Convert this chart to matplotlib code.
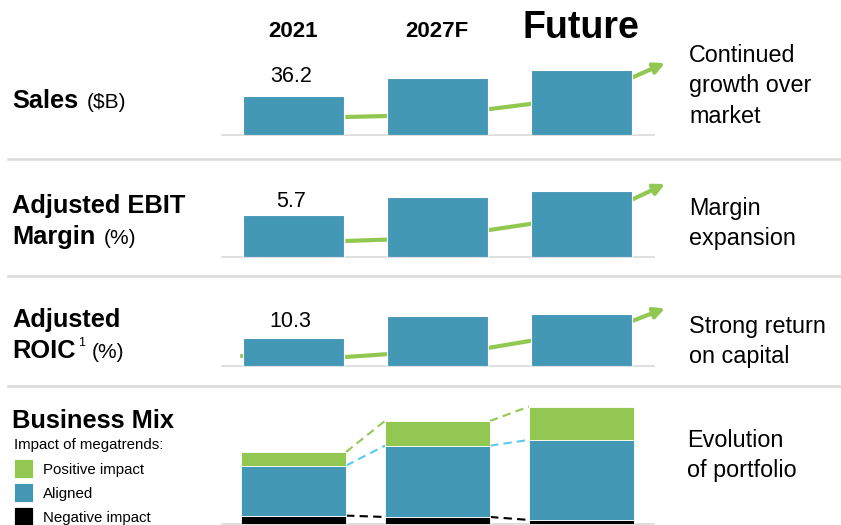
import matplotlib
matplotlib.use('Agg')
import matplotlib.pyplot as plt
from matplotlib.lines import Line2D

W, H = 841, 525
plt.rcParams['font.family'] = ['Liberation Sans', 'DejaVu Sans']

# DATA
years = ['2021', '2027F', 'Future']
sales = [36.2, 52.2, 59.6]
ebit_margin = [5.7, 8.3, 9.1]
roic = [10.3, 18.3, 19.2]
mix_negative = [4.0, 3.3, 1.8]
mix_aligned = [25.3, 36.1, 40.5]
mix_positive = [6.9, 12.5, 16.9]
mix_labels = ['Positive impact', 'Aligned', 'Negative impact']

# trend arrows drawn behind the bars (value units)
trend_x = [0.36, 0.64, 1.36, 1.64, 2.36, 2.58]
sales_trend = [16.5, 17.4, 23.8, 28.4, 53.2, 66.0]
ebit_trend = [2.17, 2.35, 3.68, 4.51, 7.96, 10.03]
roic_trend = [3.2, 4.2, 6.6, 9.1, 16.6, 21.1]

BLUE = '#4398b6'
GREEN = '#92c851'
LIGHTBLUE = '#5ac8f5'
GRAY = '#d9d9d9'


def fx(x):
    return x / W


def fy(y):
    return 1 - y / H


fig = plt.figure(figsize=(W / 100, H / 100), dpi=100)


def row_axes(baseline, height, ytop):
    ax = fig.add_axes([fx(221.5), fy(baseline), 432 / W, height / H])
    ax.set_xlim(-0.5, 2.5)
    ax.set_ylim(0, ytop)
    for s in ['top', 'left', 'right']:
        ax.spines[s].set_visible(False)
    ax.spines['bottom'].set_color(GRAY)
    ax.spines['bottom'].set_linewidth(1.2)
    ax.set_xticks([])
    ax.set_yticks([])
    ax.patch.set_alpha(0)
    return ax


def trend_row(ax, values, trend, label, label_dy, tx=None, ty=None):
    ax.bar(range(len(values)), values, width=0.70, color=BLUE,
           edgecolor='white', linewidth=0.8, zorder=3)
    xs = list(trend_x[:5])
    ys = list(trend[:5])
    if tx is not None:
        xs = [tx] + xs
        ys = [ty] + ys
    ax.plot(xs, ys, color=GREEN, lw=3, solid_capstyle='butt', zorder=1, clip_on=False)
    ax.annotate('', xy=(trend_x[5], trend[5]), xytext=(trend_x[4], trend[4]),
                arrowprops=dict(arrowstyle='-|>', color=GREEN, lw=3,
                                mutation_scale=16, shrinkA=0, shrinkB=0),
                annotation_clip=False, zorder=1)
    ax.annotate(label, xy=(0, values[0]), xytext=(-2, label_dy),
                textcoords='offset points', ha='center', va='baseline',
                fontsize=15.5)


# rows of bars
ax1 = row_axes(135, 85, 78)
trend_row(ax1, sales, sales_trend, f'{sales[0]}', 9.7)

ax2 = row_axes(256.7, 85, 11.73)
trend_row(ax2, ebit_margin, ebit_trend, f'{ebit_margin[0]}', 6.2)

ax3 = row_axes(365.7, 85, 31.27)
trend_row(ax3, roic, roic_trend, f'{roic[0]}', 7.5, tx=-0.37, ty=3.6)

# business mix stacked bars
ax4 = row_axes(523.5, 130, 65.8)
xpos = range(len(years))
b_neg = ax4.bar(xpos, mix_negative, width=0.73, color='black',
                edgecolor='white', linewidth=0.6, zorder=3)
bottom2 = [a for a in mix_negative]
b_al = ax4.bar(xpos, mix_aligned, width=0.73, bottom=bottom2, color=BLUE,
               edgecolor='white', linewidth=0.6, zorder=3)
bottom3 = [a + b for a, b in zip(mix_negative, mix_aligned)]
b_pos = ax4.bar(xpos, mix_positive, width=0.73, bottom=bottom3, color=GREEN,
                edgecolor='white', linewidth=0.6, zorder=3)
tops = [a + b for a, b in zip(bottom3, mix_positive)]
for levels, col in [(tops, GREEN), (bottom3, LIGHTBLUE), (mix_negative, 'black')]:
    for i in range(len(years) - 1):
        ax4.plot([i + 0.365, i + 1 - 0.365], [levels[i], levels[i + 1]],
                 color=col, lw=1.5, ls=(0, (4, 2.5)), zorder=2)

# separators
for y in [159.5, 276, 386]:
    fig.add_artist(Line2D([fx(8), 1], [fy(y), fy(y)], color=GRAY, lw=1.8))

# column headers
fig.text(fx(293), fy(36.7), years[0], fontsize=16, fontweight='bold', ha='center', va='baseline')
fig.text(fx(437), fy(37), years[1], fontsize=16, fontweight='bold', ha='center', va='baseline')
fig.text(fx(581), fy(38), years[2], fontsize=27, fontweight='bold', ha='center', va='baseline')

# left labels
lab = dict(fontsize=18.3, fontweight='bold', va='baseline')
unit = dict(fontsize=15, va='baseline')
fig.text(fx(12), fy(108.3), 'Sales', **lab)
fig.text(fx(87), fy(108.3), '($B)', **unit)
fig.text(fx(12), fy(213.3), 'Adjusted EBIT', **lab)
fig.text(fx(12), fy(244), 'Margin', **lab)
fig.text(fx(104), fy(244), '(%)', **unit)
fig.text(fx(12), fy(326.7), 'Adjusted', **lab)
fig.text(fx(12), fy(358.3), 'ROIC', **lab)
fig.text(fx(78), fy(346), '1', fontsize=9, va='baseline')
fig.text(fx(92), fy(358.3), '(%)', **unit)
fig.text(fx(12), fy(428.3), 'Business Mix', **lab)
fig.text(fx(14), fy(449), 'Impact of megatrends:', fontsize=10.8, va='baseline')

fig.legend([b_pos, b_al, b_neg], mix_labels, loc='upper left',
           bbox_to_anchor=(fx(14), fy(459)), frameon=False, fontsize=10.8,
           borderpad=0, borderaxespad=0, handlelength=1.25, handleheight=1.6,
           handletextpad=0.7, labelspacing=0.32)

# right comments
rt = dict(fontsize=16.8, va='baseline')
for x, y, s in [(689, 61.7, 'Continued'), (689, 91.7, 'growth over'), (689, 123.3, 'market'),
                (689, 215, 'Margin'), (689, 245, 'expansion'),
                (689, 332.7, 'Strong return'), (689, 363.3, 'on capital'),
                (687, 446.7, 'Evolution'), (687, 476.7, 'of portfolio')]:
    fig.text(fx(x), fy(y), s, **rt)

fig.savefig('out.png', dpi=100)
